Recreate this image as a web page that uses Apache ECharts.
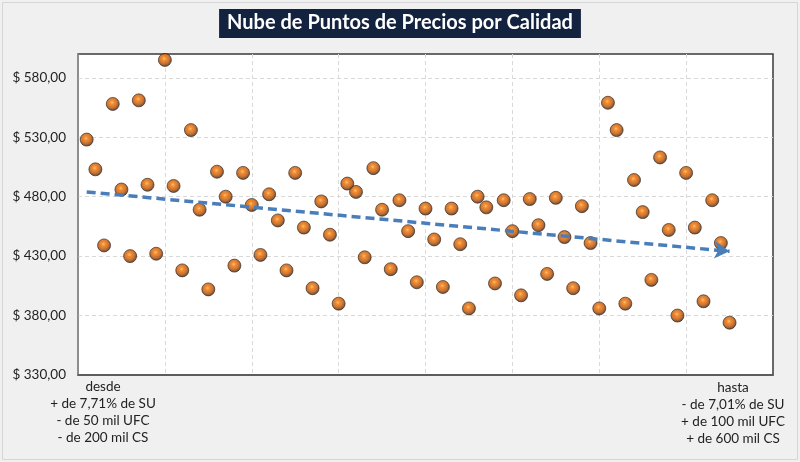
<!DOCTYPE html>
<html>
<head>
<meta charset="utf-8">
<script src="https://cdn.jsdelivr.net/npm/echarts@6/dist/echarts.min.js"></script>
<style>
  html, body { margin: 0; padding: 0; background: #f0f0f0; }
  #nubeChart { width: 800px; height: 462px; }
</style>
</head>
<body>
<div id="nubeChart"></div>
<script>
    // datos (x = posicion, y = precio)
    var posiciones = [];
    for (var i = 1; i <= 75; i++) { posiciones.push(i); }
    var precios = [
        528, 503, 439, 558, 486, 430, 561, 490, 432, 595,
        489, 418, 536, 469, 402, 501, 480, 422, 500, 473,
        431, 482, 460, 418, 500, 454, 403, 476, 448, 390,
        491, 484, 429, 504, 469, 419, 477, 451, 408, 470,
        444, 404, 470, 440, 386, 480, 471, 407, 477, 451,
        397, 478, 456, 415, 479, 446, 403, 472, 441, 386,
        559, 536, 390, 494, 467, 410, 513, 452, 380, 500,
        454, 392, 477, 441, 374
    ];
    // linea de tendencia (inicio, fin)
    var tendenciaX = [1, 75];
    var tendenciaY = [484, 434];
    var textoDesde = ['desde', '+ de 7,71% de SU', '- de 50 mil UFC', '- de 200 mil CS'];
    var textoHasta = ['hasta', '- de 7,01% de SU', '+ de 100 mil UFC', '+ de 600 mil CS'];

    var puntos = [];
    for (var k = 0; k < precios.length; k++) {
        puntos.push([posiciones[k], precios[k]]);
    }

    var fuente = 'Lato, "Open Sans", sans-serif';
    var rejilla = { lineStyle: { color: '#d9d9d9', type: [4, 3] }, showMinLine: false, showMaxLine: false };
    var chart = echarts.init(document.getElementById('nubeChart'));
    var option = {
        backgroundColor: '#f0f0f0',
        animation: false,
        title: {
            text: 'Nube de Puntos de Precios por Calidad',
            left: 'center',
            top: 9,
            backgroundColor: '#13223f',
            padding: [4, 8, 5, 8],
            textStyle: {
                color: '#ffffff',
                fontSize: 20,
                fontWeight: 'bold',
                fontFamily: fuente
            }
        },
        grid: {
            left: 78,
            top: 54,
            right: 27,
            bottom: 87,
            show: true,
            backgroundColor: '#ffffff',
            borderColor: '#3a3a3a',
            borderWidth: 1.5
        },
        xAxis: {
            type: 'value',
            min: 0,
            max: 80,
            interval: 10,
            axisLine: { show: true, lineStyle: { color: '#5a5a5a', width: 1.5 } },
            axisTick: { show: false },
            axisLabel: { show: false },
            splitLine: rejilla
        },
        yAxis: {
            type: 'value',
            min: 330,
            max: 600,
            interval: 50,
            axisLine: { show: true, lineStyle: { color: '#9a9a9a', width: 1.5 } },
            axisTick: { show: false },
            axisLabel: {
                color: '#222222',
                fontSize: 13.5,
                fontFamily: fuente,
                margin: 12,
                formatter: function (v) {
                    if (v > 580) { return ''; }
                    return '$ ' + v.toFixed(2).replace('.', ',');
                }
            },
            splitLine: rejilla
        },
        series: [
            {
                type: 'scatter',
                data: puntos,
                symbolSize: 13,
                itemStyle: {
                    color: new echarts.graphic.RadialGradient(0.45, 0.4, 0.6, [
                        { offset: 0, color: '#ffb35c' },
                        { offset: 0.22, color: '#f07400' },
                        { offset: 0.6, color: '#c25200' },
                        { offset: 0.85, color: '#6e3208' },
                        { offset: 1, color: '#2e1c10' }
                    ]),
                    borderColor: '#2e2218',
                    borderWidth: 0.8
                },
                z: 2
            },
            {
                type: 'line',
                data: [],
                z: 3,
                markLine: {
                    silent: true,
                    symbol: ['none', 'arrow'],
                    symbolSize: [13, 15],
                    label: { show: false },
                    lineStyle: { color: '#4a7ebb', width: 3.5, type: [9, 5] },
                    data: [[
                        { coord: [tendenciaX[0], tendenciaY[0]] },
                        { coord: [tendenciaX[1], tendenciaY[1]] }
                    ]]
                }
            }
        ],
        graphic: [
            {
                type: 'rect',
                shape: { x: 2.5, y: 2.5, width: 795, height: 457 },
                style: { fill: 'none', stroke: '#d6d6d6', lineWidth: 1 },
                silent: true
            },
            {
                type: 'text',
                x: 103,
                y: 378,
                style: {
                    text: textoDesde.join('\n'),
                    align: 'center',
                    verticalAlign: 'top',
                    lineHeight: 17,
                    fontSize: 13.5,
                    fontFamily: fuente,
                    fill: '#222222'
                }
            },
            {
                type: 'text',
                x: 733,
                y: 379,
                style: {
                    text: textoHasta.join('\n'),
                    align: 'center',
                    verticalAlign: 'top',
                    lineHeight: 17,
                    fontSize: 13.5,
                    fontFamily: fuente,
                    fill: '#222222'
                }
            }
        ]
    };
    chart.setOption(option);
</script>
</body>
</html>
